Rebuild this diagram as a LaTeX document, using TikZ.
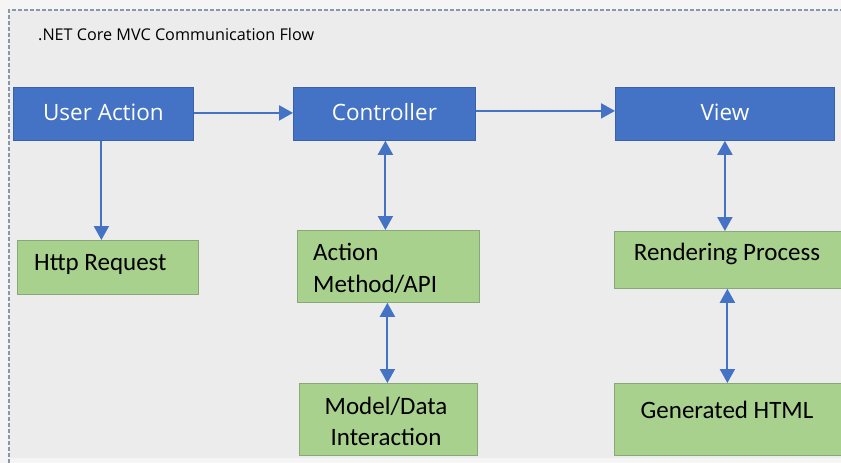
\documentclass[tikz,border=0pt]{standalone}
\usepackage{fontspec}
\setmainfont{Open Sans}
\newfontfamily\greenfont{Carlito}
\usetikzlibrary{arrows.meta}
\definecolor{bluebox}{HTML}{4472C4}
\definecolor{blueedge}{HTML}{3A62AA}
\definecolor{greenbox}{HTML}{A9D18E}
\definecolor{greenedge}{HTML}{8AA77A}
\definecolor{bgin}{HTML}{ECECEC}
\definecolor{bgout}{HTML}{F5F5F5}
\definecolor{frameline}{HTML}{8A96AA}
\tikzset{
  bluenode/.style={draw=blueedge, fill=bluebox, line width=0.8pt, text=white, font=\fontsize{22.5}{26}\selectfont, inner sep=0pt, anchor=north west},
  greennode/.style={draw=greenedge, fill=greenbox, line width=0.8pt, inner sep=0pt, anchor=north west},
  gtext/.style={font=\greenfont\fontsize{25}{31}\selectfont, text=black, inner sep=0pt},
  link/.style={draw=bluebox, line width=2pt, -{Triangle[length=14pt,width=15pt]}},
  blink/.style={draw=bluebox, line width=2pt, {Triangle[length=14pt,width=15pt]}-{Triangle[length=14pt,width=15pt]}}
}
\begin{document}
\begin{tikzpicture}[x=1pt,y=-1pt]
\useasboundingbox (0,0) rectangle (841,463);
\fill[bgout] (0,0) rectangle (841,463);
\fill[bgin] (9,10) rectangle (841,458);
\draw[frameline, line width=1.2pt, dash pattern=on 4pt off 2pt] (9,463) -- (9,10) -- (841,10);
\node[anchor=west, font=\fontsize{16.2}{19}\selectfont, inner sep=0pt] (title) at (38,34) {.NET Core MVC Communication Flow};

\node[bluenode, minimum width=180pt, minimum height=53pt] (ua) at (13,87) {\raisebox{3pt}{User Action}};
\node[bluenode, minimum width=182pt, minimum height=53pt] (ctrl) at (293,87) {\raisebox{3pt}{Controller}};
\node[bluenode, minimum width=219pt, minimum height=53pt] (view) at (615,87) {\raisebox{3pt}{View}};

\node[greennode, minimum width=181pt, minimum height=54pt] (http) at (17,240) {};
\node[gtext, anchor=west] (httpt) at (34,264) {Http Request};

\node[greennode, minimum width=182pt, minimum height=72pt] (am) at (297,230) {};
\node[gtext, anchor=north west, align=left, font=\greenfont\fontsize{25}{32}\selectfont] (amt) at (313,243) {Action\\Method/API};

\node[greennode, minimum width=178pt, minimum height=72pt] (md) at (299,383) {};
\node[gtext, anchor=north, align=center, font=\greenfont\fontsize{25}{31}\selectfont] (mdt) at (386,397) {Model/Data\\Interaction};

\node[greennode, minimum width=230pt, minimum height=57pt] (rp) at (614,231) {};
\node[gtext] (rpt) at (727,254) {Rendering Process};

\node[greennode, minimum width=230pt, minimum height=72pt] (gh) at (614,383) {};
\node[gtext] (ght) at (727,410) {Generated HTML};

\draw[link] (ua.east) ++(0,-1) coordinate (a1) -- (a1 -| ctrl.west);
\draw[link] (ctrl.east) ++(0,-3) coordinate (a2) -- (a2 -| view.west);
\draw[link] (ua.south) ++(-2,0) coordinate (a3) -- (a3 |- http.north);
\draw[blink] (ctrl.south) ++(1,0) coordinate (a4) -- (a4 |- am.north);
\draw[blink] (am.south) ++(-1,0) coordinate (a5) -- (a5 |- md.north);
\draw[blink] (view.south) ++(0,0) coordinate (a6) -- (a6 |- rp.north);
\draw[blink] (rp.south) ++(-2,0) coordinate (a7) -- (a7 |- gh.north);
\end{tikzpicture}
\end{document}
